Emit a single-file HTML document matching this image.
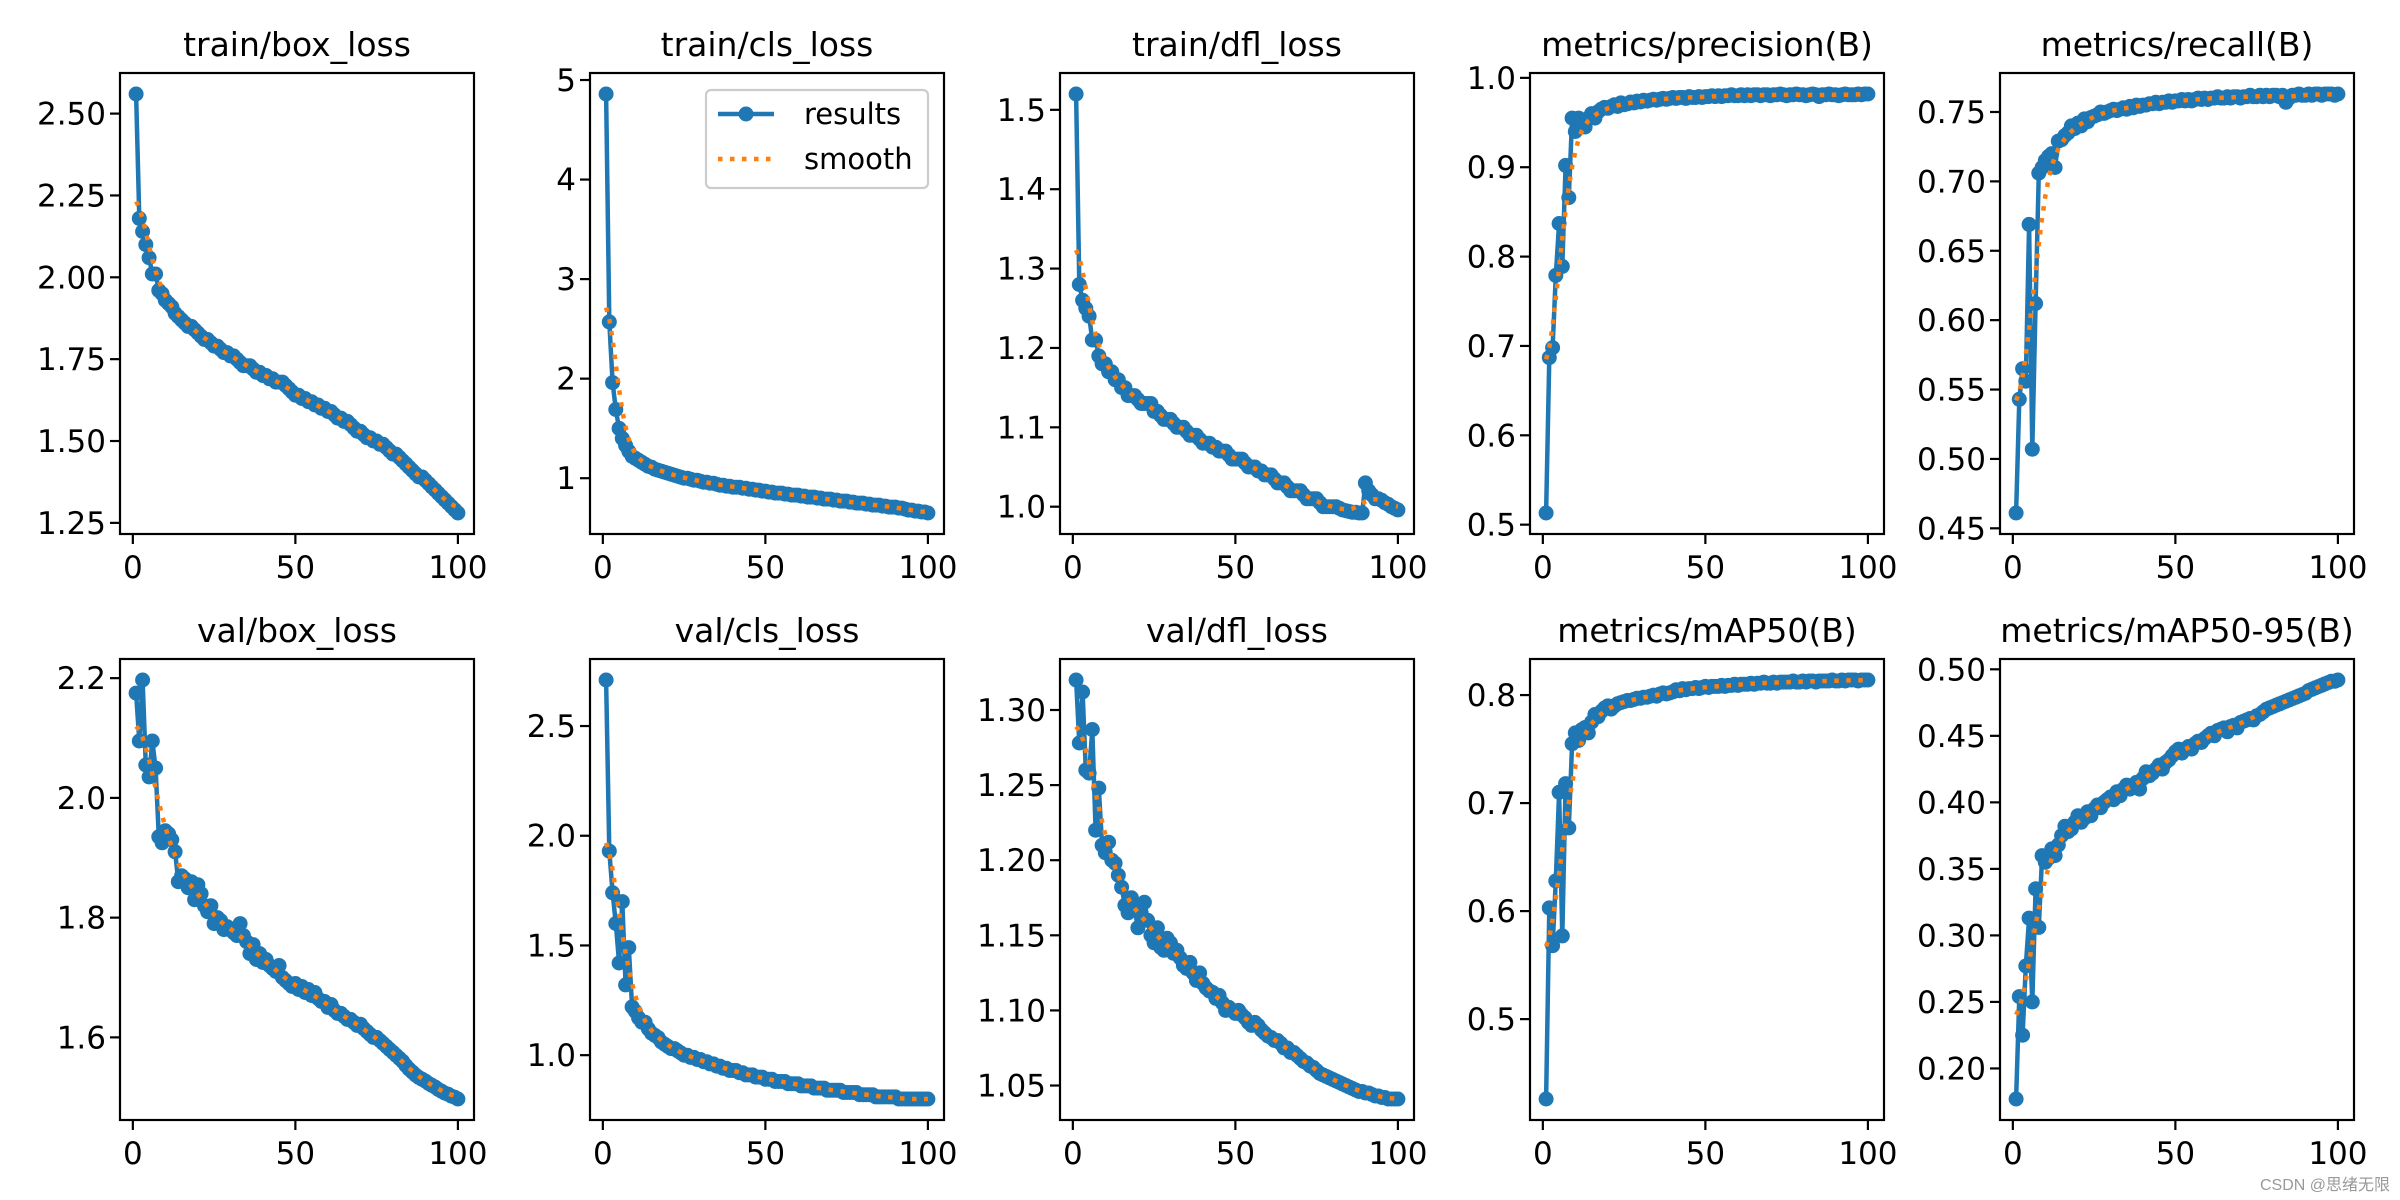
<!DOCTYPE html>
<html><head><meta charset="utf-8"><style>
html,body{margin:0;padding:0;background:#fff;}
svg{display:block;font-family:"DejaVu Sans","Liberation Sans",sans-serif;}
</style></head><body>
<svg id="fig" width="2400" height="1200" viewBox="0 0 2400 1200" xmlns="http://www.w3.org/2000/svg">
<rect x="0" y="0" width="2400" height="1200" fill="#fff"/>
<text x="2390" y="1190" text-anchor="end" font-size="16" fill="#999" font-family="'Liberation Sans','Noto Sans CJK SC',sans-serif">CSDN @思绪无限</text>
</svg>
<script>
const titles=["train/box_loss","train/cls_loss","train/dfl_loss","metrics/precision(B)","metrics/recall(B)","val/box_loss","val/cls_loss","val/dfl_loss","metrics/mAP50(B)","metrics/mAP50-95(B)"];
const xTicks=[0,50,100];
const yTicks=[
[1.25,1.50,1.75,2.00,2.25,2.50],[1,2,3,4,5],[1.0,1.1,1.2,1.3,1.4,1.5],[0.5,0.6,0.7,0.8,0.9,1.0],[0.45,0.50,0.55,0.60,0.65,0.70,0.75],
[1.6,1.8,2.0,2.2],[1.0,1.5,2.0,2.5],[1.05,1.10,1.15,1.20,1.25,1.30],[0.5,0.6,0.7,0.8],[0.20,0.25,0.30,0.35,0.40,0.45,0.50]];
const yDec=[2,0,1,1,2,1,1,2,1,2];
const trainBox=[2.56,2.18,2.14,2.10,2.06,2.01,2.01,1.96,1.95,1.93,1.92,1.91,1.89,1.88,1.87,1.86,1.85,1.85,1.84,1.83,1.82,1.81,1.81,1.80,1.79,1.79,1.78,1.77,1.77,1.76,1.76,1.75,1.74,1.73,1.73,1.73,1.72,1.71,1.71,1.70,1.70,1.69,1.69,1.68,1.68,1.68,1.67,1.66,1.65,1.64,1.64,1.63,1.63,1.62,1.62,1.61,1.61,1.60,1.60,1.59,1.59,1.58,1.57,1.57,1.56,1.56,1.55,1.54,1.53,1.53,1.52,1.51,1.51,1.50,1.50,1.49,1.49,1.48,1.47,1.46,1.46,1.45,1.44,1.43,1.42,1.41,1.40,1.39,1.39,1.38,1.37,1.36,1.35,1.34,1.33,1.32,1.31,1.30,1.29,1.28];
const trainCls=[4.86,2.57,1.96,1.69,1.50,1.40,1.33,1.27,1.22,1.20,1.18,1.16,1.14,1.12,1.11,1.09,1.08,1.07,1.06,1.05,1.04,1.03,1.02,1.01,1.00,1.00,0.99,0.98,0.98,0.97,0.96,0.96,0.95,0.95,0.94,0.93,0.93,0.92,0.92,0.91,0.91,0.91,0.90,0.90,0.89,0.89,0.88,0.88,0.87,0.87,0.86,0.86,0.85,0.85,0.85,0.84,0.84,0.83,0.83,0.83,0.82,0.82,0.81,0.81,0.81,0.80,0.80,0.79,0.79,0.79,0.78,0.78,0.77,0.77,0.77,0.76,0.76,0.75,0.75,0.75,0.74,0.74,0.73,0.73,0.73,0.72,0.72,0.71,0.71,0.71,0.70,0.70,0.69,0.68,0.68,0.67,0.67,0.66,0.66,0.65];
const trainDfl=[1.52,1.28,1.26,1.25,1.24,1.21,1.21,1.19,1.18,1.18,1.17,1.17,1.16,1.16,1.15,1.15,1.14,1.14,1.14,1.135,1.13,1.13,1.13,1.13,1.12,1.12,1.115,1.11,1.11,1.11,1.105,1.10,1.10,1.10,1.095,1.09,1.09,1.09,1.085,1.08,1.08,1.08,1.075,1.075,1.07,1.07,1.07,1.065,1.06,1.06,1.06,1.06,1.055,1.05,1.05,1.05,1.045,1.045,1.04,1.04,1.04,1.035,1.03,1.03,1.03,1.025,1.02,1.02,1.02,1.02,1.015,1.01,1.01,1.01,1.01,1.005,1.00,1.00,1.00,1.00,1.00,0.998,0.996,0.995,0.994,0.993,0.993,0.992,0.992,1.03,1.02,1.015,1.01,1.01,1.008,1.005,1.003,1.0,0.998,0.996];
const precision=[0.513,0.687,0.698,0.779,0.837,0.789,0.902,0.866,0.955,0.940,0.955,0.950,0.945,0.955,0.960,0.955,0.962,0.965,0.967,0.966,0.968,0.970,0.968,0.972,0.970,0.971,0.973,0.972,0.974,0.973,0.975,0.974,0.975,0.976,0.975,0.976,0.977,0.976,0.977,0.978,0.977,0.978,0.978,0.977,0.979,0.978,0.978,0.979,0.978,0.979,0.979,0.980,0.979,0.980,0.979,0.980,0.980,0.981,0.980,0.980,0.981,0.980,0.981,0.980,0.981,0.981,0.980,0.981,0.981,0.980,0.981,0.981,0.982,0.981,0.980,0.981,0.981,0.982,0.981,0.981,0.980,0.981,0.982,0.981,0.979,0.981,0.981,0.982,0.981,0.981,0.980,0.981,0.982,0.981,0.981,0.981,0.982,0.981,0.982,0.982];
const recall=[0.461,0.543,0.565,0.556,0.669,0.507,0.612,0.706,0.710,0.715,0.718,0.720,0.710,0.729,0.730,0.733,0.735,0.740,0.738,0.742,0.740,0.745,0.743,0.746,0.747,0.748,0.750,0.749,0.750,0.751,0.752,0.751,0.752,0.753,0.752,0.754,0.753,0.755,0.754,0.755,0.755,0.756,0.756,0.757,0.756,0.757,0.757,0.758,0.757,0.758,0.758,0.759,0.758,0.759,0.758,0.759,0.760,0.759,0.760,0.759,0.760,0.760,0.761,0.760,0.760,0.761,0.760,0.761,0.761,0.760,0.761,0.761,0.762,0.761,0.761,0.762,0.761,0.762,0.761,0.762,0.762,0.761,0.762,0.757,0.760,0.762,0.762,0.763,0.762,0.762,0.763,0.762,0.763,0.763,0.762,0.763,0.763,0.763,0.762,0.763];
const valBox=[2.175,2.095,2.197,2.055,2.035,2.095,2.050,1.935,1.925,1.945,1.940,1.930,1.910,1.860,1.870,1.865,1.850,1.860,1.830,1.855,1.840,1.820,1.810,1.820,1.790,1.800,1.795,1.780,1.785,1.780,1.775,1.770,1.790,1.770,1.760,1.740,1.755,1.730,1.740,1.725,1.730,1.720,1.715,1.710,1.720,1.700,1.695,1.690,1.685,1.690,1.680,1.685,1.675,1.680,1.670,1.675,1.665,1.660,1.660,1.650,1.655,1.645,1.640,1.640,1.635,1.630,1.630,1.625,1.620,1.622,1.615,1.610,1.605,1.600,1.600,1.595,1.590,1.585,1.580,1.575,1.570,1.565,1.560,1.553,1.547,1.542,1.537,1.533,1.530,1.527,1.523,1.520,1.517,1.513,1.510,1.507,1.505,1.502,1.500,1.497];
const valCls=[2.71,1.93,1.74,1.60,1.42,1.70,1.32,1.49,1.22,1.20,1.17,1.15,1.15,1.12,1.10,1.09,1.08,1.06,1.05,1.04,1.03,1.03,1.02,1.01,1.00,1.00,0.99,0.99,0.98,0.98,0.97,0.97,0.96,0.96,0.95,0.95,0.94,0.94,0.93,0.93,0.93,0.92,0.92,0.91,0.91,0.91,0.90,0.90,0.90,0.89,0.89,0.89,0.88,0.88,0.88,0.88,0.87,0.87,0.87,0.87,0.86,0.86,0.86,0.86,0.85,0.85,0.85,0.85,0.84,0.84,0.84,0.84,0.84,0.83,0.83,0.83,0.83,0.83,0.82,0.82,0.82,0.82,0.82,0.81,0.81,0.81,0.81,0.81,0.81,0.81,0.80,0.80,0.80,0.80,0.80,0.80,0.80,0.80,0.80,0.80];
const valDfl=[1.320,1.278,1.312,1.260,1.258,1.287,1.220,1.248,1.210,1.205,1.212,1.200,1.198,1.190,1.182,1.170,1.165,1.175,1.168,1.155,1.165,1.172,1.160,1.150,1.145,1.155,1.142,1.140,1.148,1.145,1.138,1.140,1.135,1.130,1.128,1.132,1.125,1.120,1.125,1.118,1.115,1.113,1.112,1.108,1.110,1.105,1.100,1.102,1.100,1.098,1.100,1.097,1.095,1.092,1.090,1.092,1.090,1.087,1.085,1.083,1.082,1.080,1.080,1.078,1.075,1.075,1.072,1.072,1.070,1.068,1.066,1.065,1.063,1.062,1.060,1.058,1.057,1.056,1.055,1.054,1.053,1.052,1.051,1.050,1.049,1.048,1.047,1.046,1.046,1.045,1.045,1.044,1.043,1.043,1.042,1.042,1.041,1.041,1.041,1.041];
const map50=[0.426,0.603,0.568,0.628,0.710,0.577,0.718,0.677,0.755,0.765,0.758,0.768,0.770,0.765,0.775,0.782,0.780,0.785,0.788,0.790,0.787,0.790,0.792,0.793,0.794,0.795,0.795,0.796,0.797,0.797,0.798,0.798,0.799,0.800,0.799,0.801,0.802,0.801,0.802,0.803,0.805,0.804,0.806,0.805,0.806,0.806,0.807,0.806,0.807,0.808,0.807,0.808,0.808,0.808,0.809,0.808,0.809,0.809,0.810,0.809,0.810,0.810,0.810,0.811,0.810,0.811,0.811,0.812,0.811,0.811,0.812,0.811,0.812,0.812,0.812,0.812,0.813,0.812,0.812,0.813,0.812,0.813,0.813,0.812,0.813,0.813,0.813,0.813,0.814,0.813,0.813,0.814,0.813,0.814,0.814,0.814,0.813,0.814,0.814,0.814];
const map5095=[0.177,0.254,0.225,0.277,0.313,0.250,0.335,0.306,0.360,0.355,0.358,0.365,0.360,0.368,0.375,0.382,0.378,0.380,0.385,0.390,0.385,0.388,0.393,0.390,0.395,0.398,0.396,0.400,0.402,0.404,0.402,0.408,0.405,0.410,0.413,0.410,0.412,0.415,0.410,0.418,0.423,0.420,0.422,0.425,0.428,0.425,0.430,0.432,0.435,0.438,0.440,0.437,0.440,0.442,0.440,0.444,0.446,0.445,0.448,0.450,0.452,0.450,0.454,0.455,0.456,0.453,0.457,0.458,0.456,0.460,0.461,0.462,0.463,0.462,0.465,0.466,0.468,0.470,0.471,0.472,0.473,0.474,0.475,0.476,0.477,0.478,0.479,0.480,0.481,0.482,0.484,0.485,0.486,0.487,0.488,0.489,0.490,0.491,0.491,0.492];
const series=[trainBox,trainCls,trainDfl,precision,recall,valBox,valCls,valDfl,map50,map5095];

const NS="http://www.w3.org/2000/svg";
const svg=document.getElementById('fig');
function mk(tag,attrs,parent){const e=document.createElementNS(NS,tag);for(const k in attrs)e.setAttribute(k,attrs[k]);(parent||svg).appendChild(e);return e;}
function smooth(y){const sig=3,R=12,n=y.length;const w=[];let ws=0;for(let k=-R;k<=R;k++){const v=Math.exp(-k*k/(2*sig*sig));w.push(v);ws+=v;}
 const out=[];for(let i=0;i<n;i++){let s=0;for(let k=-R;k<=R;k++){let j=i+k;if(j<0)j=-j-1;if(j>=n)j=2*n-j-1;s+=w[k+R]*y[j];}out.push(s/ws);}return out;}
const BLUE="#1f77b4",ORANGE="#ff7f0e";
for(let p=0;p<10;p++){
 const c=p%5,r=Math.floor(p/5);
 const L=120+470*c,W=354,T=[73,659][r],H=461;
 const ys=series[p];
 const xs=ys.map((_,i)=>i+1);
 const xmin=1,xmax=xs.length,xm=(xmax-xmin)*0.05;
 const ymn=Math.min(...ys),ymx=Math.max(...ys),ym=(ymx-ymn)*0.05;
 const X=v=>L+(v-(xmin-xm))/((xmax+xm)-(xmin-xm))*W;
 const Y=v=>T+H-(v-(ymn-ym))/((ymx+ym)-(ymn-ym))*H;
 const g=mk('g',{});
 
 
 const t=mk('text',{x:L+W/2,y:T-17,'text-anchor':'middle','font-size':33,fill:'#000'},g);t.textContent=titles[p];
 
 
 const pts=xs.map((x,i)=>X(x).toFixed(1)+','+Y(ys[i]).toFixed(1)).join(' ');
 const pl=mk('polyline',{points:pts,fill:'none',stroke:BLUE,'stroke-width':4.5,'stroke-linejoin':'round'},g);
 
 
 xs.forEach((x,i)=>{const m=mk('circle',{cx:X(x).toFixed(1),cy:Y(ys[i]).toFixed(1),r:7.5,fill:BLUE},g);
  
  });
 const sm=smooth(ys);
 const sp=mk('polyline',{points:xs.map((x,i)=>X(x).toFixed(1)+','+Y(sm[i]).toFixed(1)).join(' '),fill:'none',stroke:ORANGE,'stroke-width':4.5,'stroke-dasharray':'4.5 7.5'},g);
 
 
 const fr=mk('rect',{x:L,y:T,width:W,height:H,fill:'none',stroke:'#000','stroke-width':2.2},g);
 
 
 xTicks.forEach(v=>{const x=X(v);mk('line',{x1:x,x2:x,y1:T+H,y2:T+H+10,stroke:'#000','stroke-width':2.2},g);
  const tl=mk('text',{x:x,y:T+H+44,'text-anchor':'middle','font-size':31,fill:'#000'},g);tl.textContent=v;
  
  });
 yTicks[p].forEach(v=>{const y=Y(v);mk('line',{x1:L-10,x2:L,y1:y,y2:y,stroke:'#000','stroke-width':2.2},g);
  const tl=mk('text',{x:L-14,y:y+11,'text-anchor':'end','font-size':31,fill:'#000'},g);tl.textContent=v.toFixed(yDec[p]);
  
  });
 if(p===1){
  const lg=mk('g',{},g);
  
  
  mk('rect',{x:706,y:90,width:222,height:98,rx:5,fill:'#fff',stroke:'#ccc','stroke-width':2.2,'fill-opacity':0.8},lg);
  mk('line',{x1:718,x2:774,y1:114,y2:114,stroke:BLUE,'stroke-width':4.5},lg);
  mk('circle',{cx:746,cy:114,r:7.5,fill:BLUE},lg);
  const a=mk('text',{x:804,y:124,'font-size':29,fill:'#000'},lg);a.textContent='results';
  
  
  mk('line',{x1:718,x2:774,y1:159,y2:159,stroke:ORANGE,'stroke-width':4.5,'stroke-dasharray':'4.5 7.5'},lg);
  const b=mk('text',{x:804,y:169,'font-size':29,fill:'#000'},lg);b.textContent='smooth';
  
  
 }
}
</script>
</body></html>
